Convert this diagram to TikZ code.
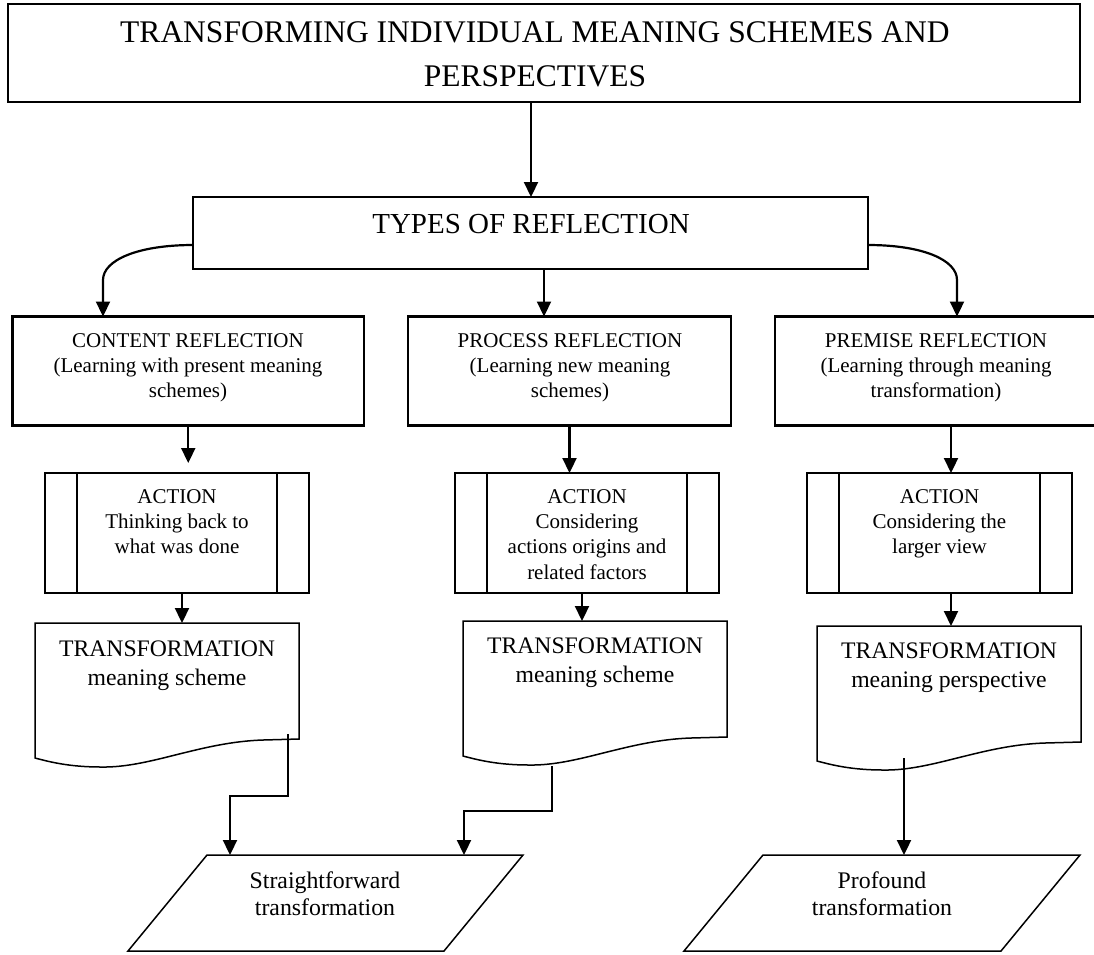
\documentclass[tikz,border=0pt]{standalone}
\usepackage{fontspec}
\setmainfont{Liberation Serif}
\usetikzlibrary{arrows.meta,calc}
\begin{document}
\begin{tikzpicture}[x=1pt,y=-1pt,
  heavy/.style={draw, line width=2.2pt, inner sep=0pt, outer sep=0pt},
  light/.style={line width=1.5pt},
  arr/.style={line width=2.2pt, -{Triangle[length=15pt,width=14pt]}},
  frame/.style={draw=none, inner sep=0pt, outer sep=0pt},
  txt/.style={align=center, inner sep=0pt, anchor=base},
  titlefont/.style={txt, font=\fontsize{31.5}{44}\selectfont},
  typesfont/.style={txt, font=\fontsize{29}{34}\selectfont},
  smallfont/.style={txt, font=\fontsize{21}{25}\selectfont},
  actfont/.style={txt, font=\fontsize{21}{25.4}\selectfont},
  bigfont/.style={txt, font=\fontsize{23.7}{29}\selectfont},
  parafont/.style={txt, font=\fontsize{23.8}{27.5}\selectfont},
  actbox/.style={draw, line width=1.5pt, minimum width=264pt, minimum height=120pt,
    inner sep=0pt, outer sep=0pt,
    path picture={\draw[line width=1.5pt]
      ([xshift=32pt]path picture bounding box.north west) -- ([xshift=32pt]path picture bounding box.south west)
      ([xshift=-32pt]path picture bounding box.north east) -- ([xshift=-32pt]path picture bounding box.south east);}},
]
\useasboundingbox (0,0) rectangle (1094,954);

% heading (text nodes are placed by the baseline of their last line)
\node[heavy, minimum width=1072pt, minimum height=98pt] (title) at (544,53) {};
\node[titlefont] (titlet) at (535,86) {TRANSFORMING INDIVIDUAL MEANING SCHEMES AND\\PERSPECTIVES};

% types of reflection
\node[heavy, minimum width=675pt, minimum height=72pt] (types) at (530.5,233) {};
\node[typesfont] (typest) at (531,233) {TYPES OF REFLECTION};

% the three kinds of reflection
\node[heavy, minimum width=351.5pt, minimum height=109pt] (c1) at (188.25,371) {};
\node[heavy, minimum width=323pt, minimum height=109pt] (c2) at (569.5,371) {};
\node[heavy, minimum width=322pt, minimum height=109pt] (c3) at (936,371) {};
\node[smallfont] (c1t) at (188,397) {CONTENT REFLECTION\\(Learning with present meaning\\schemes)};
\node[smallfont] (c2t) at (570,397) {PROCESS REFLECTION\\(Learning new meaning\\schemes)};
\node[smallfont] (c3t) at (936,397) {PREMISE REFLECTION\\(Learning through meaning\\transformation)};

% actions
\node[actbox] (a1) at (177,533) {};
\node[actbox] (a2) at (587,533) {};
\node[actbox, minimum width=265pt] (a3) at (939.5,533) {};
\node[actfont] (a1t) at (177,553.8) {ACTION\\Thinking back to\\what was done};
\node[actfont] (a2t) at (587,579.2) {ACTION\\Considering\\actions origins and\\related factors};
\node[actfont] (a3t) at (939.5,553.8) {ACTION\\Considering the\\larger view};

% transformation documents
\node[frame, minimum width=264pt, minimum height=116pt] (d1) at (167,681) {};
\node[frame, minimum width=264pt, minimum height=116pt] (d2) at (595,679) {};
\node[frame, minimum width=264pt, minimum height=116pt] (d3) at (949,684) {};
\foreach \d in {d1,d2,d3}{
  \draw[light] (\d.north west) -- (\d.north east) -- (\d.south east)
    -- ($(\d.south east)+(-36,1)$)
    .. controls ($(\d.south east)+(-99,3)$) and ($(\d.south east)+(-149,29)$) .. ($(\d.south east)+(-198,28)$)
    .. controls ($(\d.south east)+(-229,28)$) and ($(\d.south east)+(-249,23)$) .. ($(\d.south east)+(-264,19)$)
    -- cycle;
}
\node[bigfont] (d1t) at (167,685) {TRANSFORMATION\\meaning scheme};
\node[bigfont] (d2t) at (595,682) {TRANSFORMATION\\meaning scheme};
\node[bigfont] (d3t) at (949,687) {TRANSFORMATION\\meaning perspective};

% outcomes
\node[frame, minimum width=395pt, minimum height=96pt] (p1) at (325.5,903) {};
\node[frame, minimum width=396pt, minimum height=96pt] (p2) at (882,903) {};
\foreach \p in {p1,p2}{
  \draw[light] ($(\p.north west)+(79,0)$) -- (\p.north east)
    -- ($(\p.south east)+(-79,0)$) -- (\p.south west) -- cycle;
}
\node[parafont] (p1t) at (325,915.5) {Straightforward\\transformation};
\node[parafont] (p2t) at (882,915.5) {Profound\\transformation};

% connectors
\draw[arr] (title.south -| typest) -- (types.north -| typest);

\coordinate (lb) at (103,280);
\coordinate (rb) at (957,280);
\coordinate (mx) at (544,0);
\draw[arr] ([yshift=-12pt]types.west) .. controls +(-55pt,0pt) and +(0,-20) .. (lb) -- (lb |- c1.north);
\draw[arr] (types.south -| mx) -- (c2.north -| mx);
\draw[arr] ([yshift=-12pt]types.east) .. controls +(55pt,0pt) and +(0,-20) .. (rb) -- (rb |- c3.north);

\coordinate (k3) at (951,425.5);
\draw[arr] (c1.south) -- ($(c1.south |- a1.north)+(0,-10)$);
\draw[arr] (c2.south) -- (c2.south |- a2.north);
\draw[arr] (k3) -- (k3 |- a3.north);

\coordinate (k4) at (182,593);
\coordinate (k5) at (582,593);
\coordinate (k6) at (951,593);
\draw[arr] (k4) -- (k4 |- d1.north);
\draw[arr] (k5) -- (k5 |- d2.north);
\draw[arr] (k6) -- (k6 |- d3.north);

\coordinate (s1) at (288,734);
\coordinate (j1) at (230,796);
\coordinate (s2) at (552,766);
\coordinate (j2) at (464,811);
\coordinate (s3) at (904,758);
\draw[arr] (s1) |- (j1) -- (j1 |- p1.north);
\draw[arr] (s2) |- (j2) -- (j2 |- p1.north);
\draw[arr] (s3) -- (s3 |- p2.north);
\end{tikzpicture}
\end{document}
